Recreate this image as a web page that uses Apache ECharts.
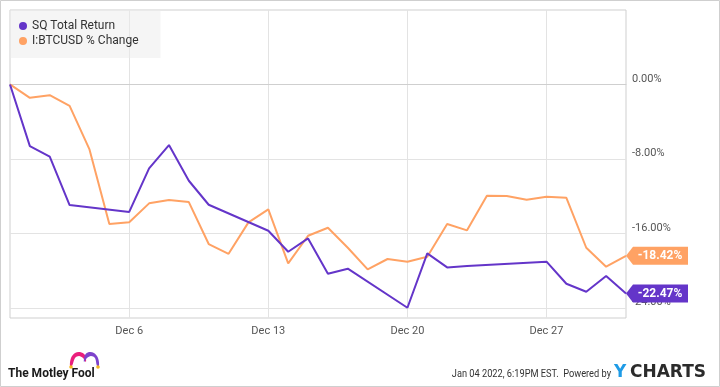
<!DOCTYPE html>
<html><head><meta charset="utf-8">
<script src="https://cdn.jsdelivr.net/npm/echarts@6/dist/echarts.min.js"></script>
<style>html,body{margin:0;padding:0;background:#fff}#c{width:720px;height:387px}</style>
</head><body><div id="c"></div>
<script>
const categories = ['Nov 30','Dec 1','Dec 2','Dec 3','Dec 4','Dec 5','Dec 6','Dec 7','Dec 8','Dec 9','Dec 10','Dec 11','Dec 12','Dec 13','Dec 14','Dec 15','Dec 16','Dec 17','Dec 18','Dec 19','Dec 20','Dec 21','Dec 22','Dec 23','Dec 24','Dec 25','Dec 26','Dec 27','Dec 28','Dec 29','Dec 30','Dec 31'];
const sqReturn = [0,-6.63,-7.77,-12.96,null,null,-13.7,-9.02,-6.52,-10.35,-12.93,null,null,-15.72,-17.98,-16.55,-20.34,-19.8,null,null,-24.0,-18.15,-19.66,-19.5,null,null,null,-19.05,-21.42,-22.28,-20.59,-22.47];
const btcChange = [0,-1.44,-1.15,-2.3,-6.98,-15.0,-14.82,-12.78,-12.43,-12.64,-17.15,-18.2,-14.82,-13.43,-19.23,-16.26,-15.4,-17.55,-19.87,-18.76,-19.05,-18.51,-15.0,-15.68,-11.96,-11.98,-12.39,-12.07,-12.18,-17.55,-19.59,-18.42];
const yTickValues = [0,-8,-16,-24];
const xTickLabels = ['Dec 6','Dec 13','Dec 20','Dec 27'];
const seriesNames = ['SQ Total Return','I:BTCUSD % Change'];
const colors = ['#6435c9','#ffa264'];

const chart = echarts.init(document.getElementById('c'));
const lastIdx = categories.length - 1;
const showTick = (i, v) => xTickLabels.indexOf(v) >= 0;
function tag(values, color) {
  return {
    symbol: 'path://M0,9L7,0L62,0L62,18L7,18Z',
    symbolSize: [62, 18],
    symbolOffset: ['50%', 0],
    silent: true,
    itemStyle: { color: color },
    label: { show: true, position: 'inside', color: '#fff', fontWeight: 'bold', fontSize: 12,
      fontFamily: 'Roboto', offset: [3, 0], formatter: p => p.value.toFixed(2) + '%' },
    data: [{ coord: [categories[lastIdx], values[lastIdx]], value: values[lastIdx] }]
  };
}
chart.setOption({
  animation: false,
  textStyle: { fontFamily: 'Roboto' },
  grid: { left: 10, right: 94, top: 10, bottom: 69, show: true, borderColor: '#cfcfcf', borderWidth: 1, backgroundColor: 'transparent' },
  legend: {
    left: 10, top: 10, orient: 'vertical',
    padding: [10, 22, 11, 9], itemGap: 3, itemWidth: 8, itemHeight: 8,
    backgroundColor: 'rgba(236,236,236,0.5)',
    textStyle: { fontSize: 12, color: '#333', fontFamily: 'Roboto' },
    data: seriesNames.map(n => ({ name: n, icon: 'circle' }))
  },
  xAxis: {
    type: 'category', data: categories, boundaryGap: false,
    axisLine: { lineStyle: { color: '#cfcfcf' } },
    axisTick: { show: false, interval: showTick },
    axisLabel: { interval: showTick, color: '#555', fontSize: 11, margin: 8 },
    splitLine: { show: true, interval: showTick, lineStyle: { color: '#e3e3e3' } }
  },
  yAxis: {
    type: 'value', position: 'right', min: -25.1, max: 8,
    axisLine: { show: false },
    axisTick: { show: false, customValues: yTickValues },
    axisLabel: { customValues: yTickValues, color: '#555', fontSize: 11, margin: 6, verticalAlign: 'bottom',
      formatter: v => v.toFixed(2) + '%' },
    splitLine: { show: true, lineStyle: { color: '#e3e3e3' } }
  },
  series: [
    { name: seriesNames[0], type: 'line', data: sqReturn, connectNulls: true, symbol: 'none', clip: false,
      lineStyle: { width: 2, color: colors[0] }, itemStyle: { color: colors[0] }, z: 3, markPoint: tag(sqReturn, colors[0]) },
    { name: seriesNames[1], type: 'line', data: btcChange, connectNulls: true, symbol: 'none', clip: false,
      lineStyle: { width: 2, color: colors[1] }, itemStyle: { color: colors[1] }, z: 2, markPoint: tag(btcChange, colors[1]) }
  ],
  graphic: [
    { type: 'rect', shape: { x: 0.5, y: 0.5, width: 719, height: 386 }, style: { fill: 'none', stroke: '#cfcfcf', lineWidth: 1 }, silent: true },
    { type: 'text', x: 8, y: 374, style: { text: 'The Motley Fool', fontSize: 12, fontWeight: 'bold', fill: '#1a1a1a', verticalAlign: 'middle', fontFamily: 'Roboto' } },
    { type: 'polygon', shape: { points: [[70,366],[71,358],[75,353],[80,352],[85,355],[86,362],[83,358],[79,356],[75,358],[72,366]], smooth: 0.35 }, style: { fill: '#ea1f7c' } },
    { type: 'polygon', shape: { points: [[84,362],[85,355],[89,352],[94,353],[98,358],[99,366],[97,366],[95,358],[91,356],[87,358]], smooth: 0.35 }, style: { fill: '#7d43cc' } },
    { type: 'circle', shape: { cx: 71, cy: 367, r: 1.8 }, style: { fill: '#f5b820' } },
    { type: 'circle', shape: { cx: 98, cy: 367, r: 1.8 }, style: { fill: '#f5b820' } },
    { type: 'text', x: 611, y: 374, scaleX: 0.84, originX: 0, originY: 0,
      style: { text: 'Jan 04 2022, 6:19PM EST.  Powered by', fontSize: 11, fill: '#333', align: 'right', verticalAlign: 'middle', fontFamily: 'Roboto' } },
    { type: 'text', x: 614, y: 373, style: { text: 'Y', fontSize: 17, fontWeight: 'bold', fill: '#1e9be6', verticalAlign: 'middle', fontFamily: 'DejaVu Sans' } },
    { type: 'text', x: 630, y: 373, style: { text: 'CHARTS', fontSize: 17, fontWeight: 'bold', fill: '#2b2b2b', verticalAlign: 'middle', fontFamily: 'DejaVu Sans' } }
  ]
});
</script></body></html>
